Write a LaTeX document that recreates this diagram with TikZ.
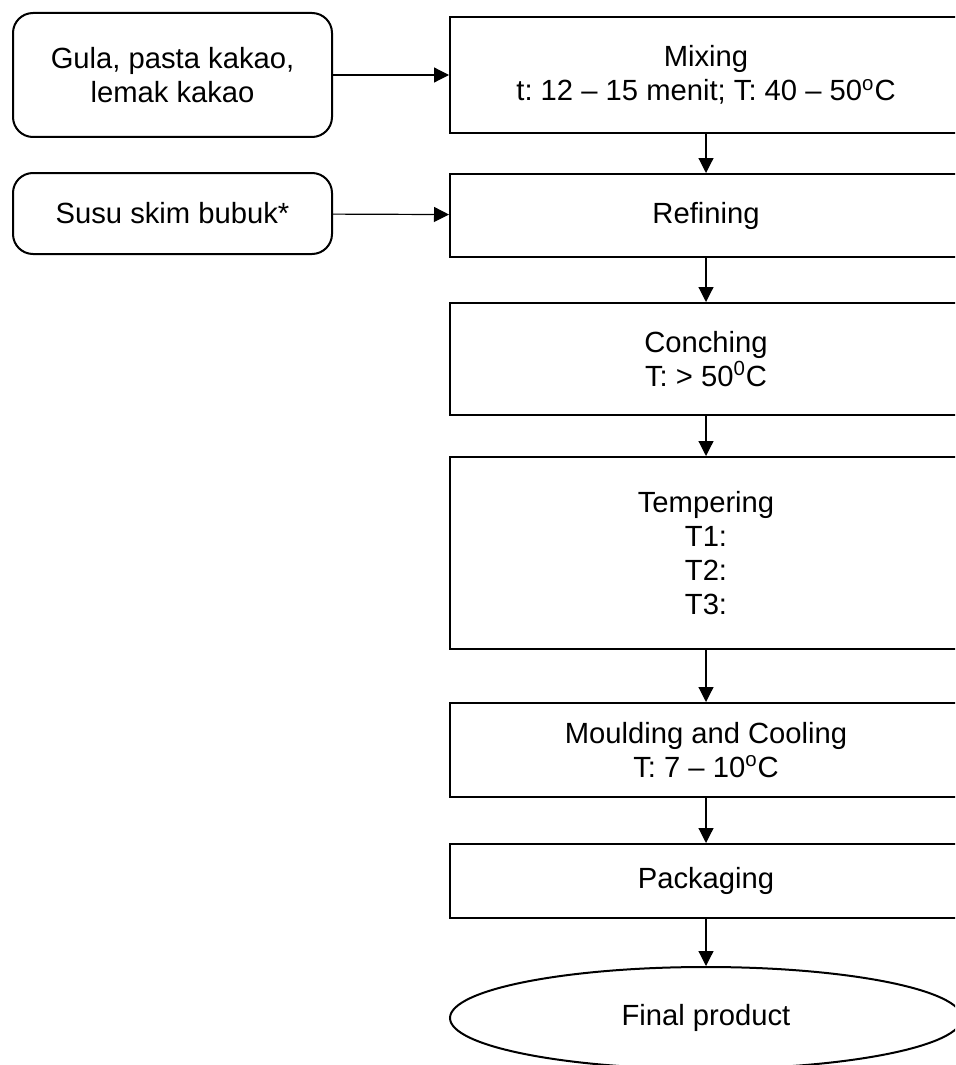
\documentclass[tikz,border=0pt]{standalone}
\usepackage{fontspec}
\setmainfont{Liberation Sans}
\usetikzlibrary{shapes.geometric, arrows.meta}
\frenchspacing
\tikzset{stepbox/.style={draw, line width=1pt, minimum width=256pt, align=center, inner sep=0pt, font=\fontsize{14.6}{17}\selectfont}}
\tikzset{inbox/.style={stepbox, rounded corners=10pt, minimum width=159.5pt}}
\tikzset{flow/.style={-{Triangle[length=7.5pt, width=7.5pt]}, line width=0.6pt}}
\newcommand{\degr}[1]{\textsuperscript{#1}C}

\begin{document}
\begin{tikzpicture}[x=0.5pt, y=-0.5pt]
\useasboundingbox (0,0) rectangle (955,1065);
\clip (0,0) rectangle (955,1065);
\node[inbox, minimum height=62pt] (gula) at (172.5,75) {Gula, pasta kakao,\\lemak kakao};
\node[inbox, minimum height=40.5pt] (susu) at (172.5,213.5) {Susu skim bubuk*};
\node[stepbox, minimum height=58pt] (mixing) at (706,75) {Mixing\\t: 12 – 15 menit; T: 40 – 50\degr{o}};
\node[stepbox, minimum height=41.5pt] (refining) at (706,215.5) {Refining};
\node[stepbox, minimum height=56pt] (conching) at (706,359) {Conching\\T: > 50\degr{0}};
\node[stepbox, minimum height=96pt] (tempering) at (706,553) {Tempering\\T1:\\T2:\\T3:};
\node[stepbox, minimum height=47pt] (moulding) at (706,750) {Moulding and Cooling\\T: 7 – 10\degr{o}};
\node[stepbox, minimum height=37pt] (packaging) at (706,881) {Packaging};
\node[stepbox, ellipse, minimum height=51pt] (product) at (706,1018) {Final product};
\draw[flow] (gula) -- (mixing);
\draw[flow] (susu) -- (refining);
\draw[flow] (mixing) -- (refining);
\draw[flow] (refining) -- (conching);
\draw[flow] (conching) -- (tempering);
\draw[flow] (tempering) -- (moulding);
\draw[flow] (moulding) -- (packaging);
\draw[flow] (packaging) -- (product);
\end{tikzpicture}
\end{document}
